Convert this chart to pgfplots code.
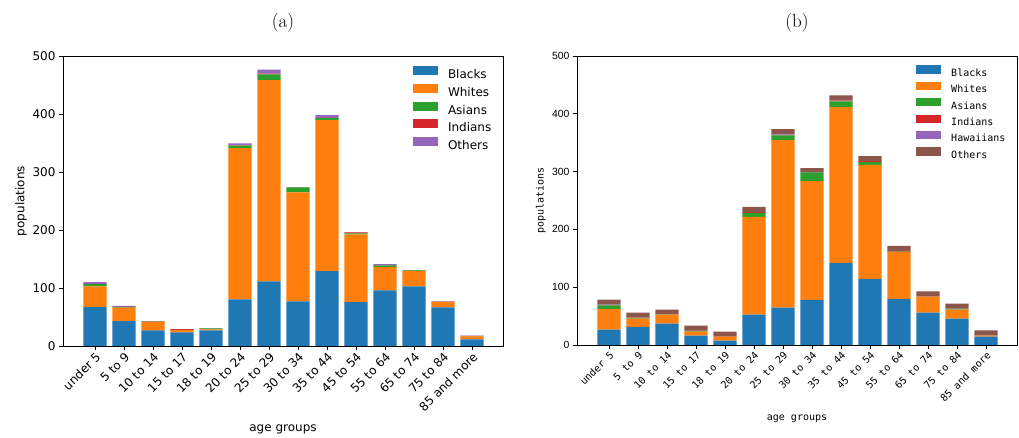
\documentclass[border=0pt]{standalone}
\usepackage{fontspec}
\usepackage{pgfplots}
\usepackage{pgfplotstable}
\pgfplotsset{compat=1.18}
\newfontfamily\djs{DejaVu Sans}
\newfontfamily\libs{Liberation Sans}
\newfontfamily\mono{DejaVu Sans Mono}
\definecolor{c0}{HTML}{1F77B4}
\definecolor{c1}{HTML}{FF7F0E}
\definecolor{c2}{HTML}{2CA02C}
\definecolor{c3}{HTML}{D62728}
\definecolor{c4}{HTML}{9467BD}
\definecolor{c5}{HTML}{8C564B}

\pgfplotstableread{
x B W A I O
0 67 36 3.5 0.5 3
1 43 23 1 0.5 1.5
2 27 14.5 0.5 0.5 0.5
3 23.5 4 0.5 1 0.3
4 27 1.8 1.5 0.2 0.2
5 80.5 260.5 4.5 0.5 3.5
6 111.5 347 10 1 7
7 77 188 8.5 0.3 0.3
8 129 260.5 3.5 0.5 4.5
9 75.5 117 1.5 2 0.3
10 96 40 3 0.3 2
11 103 26 1.5 0.3 0.2
12 66.5 9 0.5 0.5 0.5
13 11.5 5 0.5 0.5 0.5
}\dataA

\pgfplotstableread{
x B W A I H O
0 26.5 36 6 0.5 1 8.5
1 31.5 14 1.5 0.3 0.3 8.5
2 37 15.5 0.3 0.3 0.3 8
3 16 7 1.5 0.2 0.2 8.5
4 7.5 7 0.2 0.2 0.2 8
5 52.5 169 7 1.5 0.5 8.5
6 64.5 290 8 0.5 1.5 9
7 78 205.5 15 0.3 0.3 7
8 142 269.5 10 1.5 0.3 8.5
9 114.5 197 5 1.5 0.3 8.5
10 80 81 0.5 1.2 0.3 8.5
11 56 27.5 0.2 0.2 0.2 8.5
12 45.5 15.5 1.5 0.2 0.2 8.5
13 14.5 1.5 0.2 0.2 0.2 8.5
}\dataB

\pgfplotsset{
  lga/.style={fill=#1, draw=none, legend image code/.code={\fill[#1] (0pt,-0.2pt) rectangle (25pt,8.8pt);}},
  lgb/.style={fill=#1, draw=none, legend image code/.code={\fill[#1] (0pt,-0.5pt) rectangle (25pt,7.8pt);}},
  common/.style={
    scale only axis, width=440pt, height=290pt, anchor=south west,
    ybar stacked, bar width=0.8,
    xmin=-1.1, xmax=14.07, ymin=0, ymax=500,
    xtick={0,...,13},
    xticklabels={under 5,5 to 9,10 to 14,15 to 17,18 to 19,20 to 24,25 to 29,30 to 34,35 to 44,45 to 54,55 to 64,65 to 74,75 to 84,85 and more},
    ytick={0,100,...,500},
    tick pos=left, tick align=outside, major tick length=4pt,
    axis line style={line width=0.8pt},
    every tick/.style={black, line width=0.8pt},
    /pgf/number format/assume math mode=true,
    xticklabel style={rotate=45, anchor=north east, inner sep=1pt},
    xlabel={age groups}, ylabel={populations},
    legend cell align=left,
  }
}

\begin{document}
\begin{tikzpicture}
\useasboundingbox (0,0) rectangle (1019pt,438pt);
\begin{axis}[common,
  at={(63pt,92pt)},
  ticklabel style={font=\djs\fontsize{12}{12}\selectfont},
  label style={font=\djs\fontsize{12}{12}\selectfont},
  xlabel style={at={(axis description cs:0.5,-0.286)}, anchor=center},
  ylabel style={at={(axis description cs:-0.0955,0.5)}, anchor=center},
  title={(a)},
  title style={at={(axis description cs:0.5,1)}, anchor=center, yshift=27pt, font=\fontsize{19}{19}\selectfont},
  legend style={draw=none, fill=none, inner sep=0pt, at={(0.795,0.965)}, anchor=north west,
    font=\djs\fontsize{12}{12}\selectfont, row sep=3.5pt,
    nodes={inner sep=0pt},
    /tikz/every odd column/.append style={column sep=10pt}},
]
\addplot[lga=c0] table[x=x,y=B] {\dataA};
\addlegendentry{Blacks}
\addplot[lga=c1] table[x=x,y=W] {\dataA};
\addlegendentry{Whites}
\addplot[lga=c2] table[x=x,y=A] {\dataA};
\addlegendentry{Asians}
\addplot[lga=c3] table[x=x,y=I] {\dataA};
\addlegendentry{Indians}
\addplot[lga=c4] table[x=x,y=O] {\dataA};
\addlegendentry{Others}
\end{axis}

\begin{axis}[common,
  at={(577pt,93pt)}, height=289pt,
  yticklabel style={font=\libs\fontsize{10.4}{10.4}\selectfont},
  xticklabel style={font=\mono\fontsize{10}{10}\selectfont},
  label style={font=\mono\fontsize{10}{10}\selectfont},
  xlabel style={at={(axis description cs:0.5,-0.256)}, anchor=center},
  ylabel style={at={(axis description cs:-0.082,0.5)}, anchor=center},
  title={(b)},
  title style={at={(axis description cs:0.5,1)}, anchor=center, yshift=27pt, font=\fontsize{19}{19}\selectfont},
  legend style={draw=none, fill=none, inner sep=0pt, at={(0.7705,0.968)}, anchor=north west,
    font=\mono\fontsize{10}{10}\selectfont, row sep=4pt,
    nodes={inner sep=0pt},
    /tikz/every odd column/.append style={column sep=10pt}},
]
\addplot[lgb=c0] table[x=x,y=B] {\dataB};
\addlegendentry{Blacks}
\addplot[lgb=c1] table[x=x,y=W] {\dataB};
\addlegendentry{Whites}
\addplot[lgb=c2] table[x=x,y=A] {\dataB};
\addlegendentry{Asians}
\addplot[lgb=c3] table[x=x,y=I] {\dataB};
\addlegendentry{Indians}
\addplot[lgb=c4] table[x=x,y=H] {\dataB};
\addlegendentry{Hawaiians}
\addplot[lgb=c5] table[x=x,y=O] {\dataB};
\addlegendentry{Others}
\end{axis}
\end{tikzpicture}
\end{document}
